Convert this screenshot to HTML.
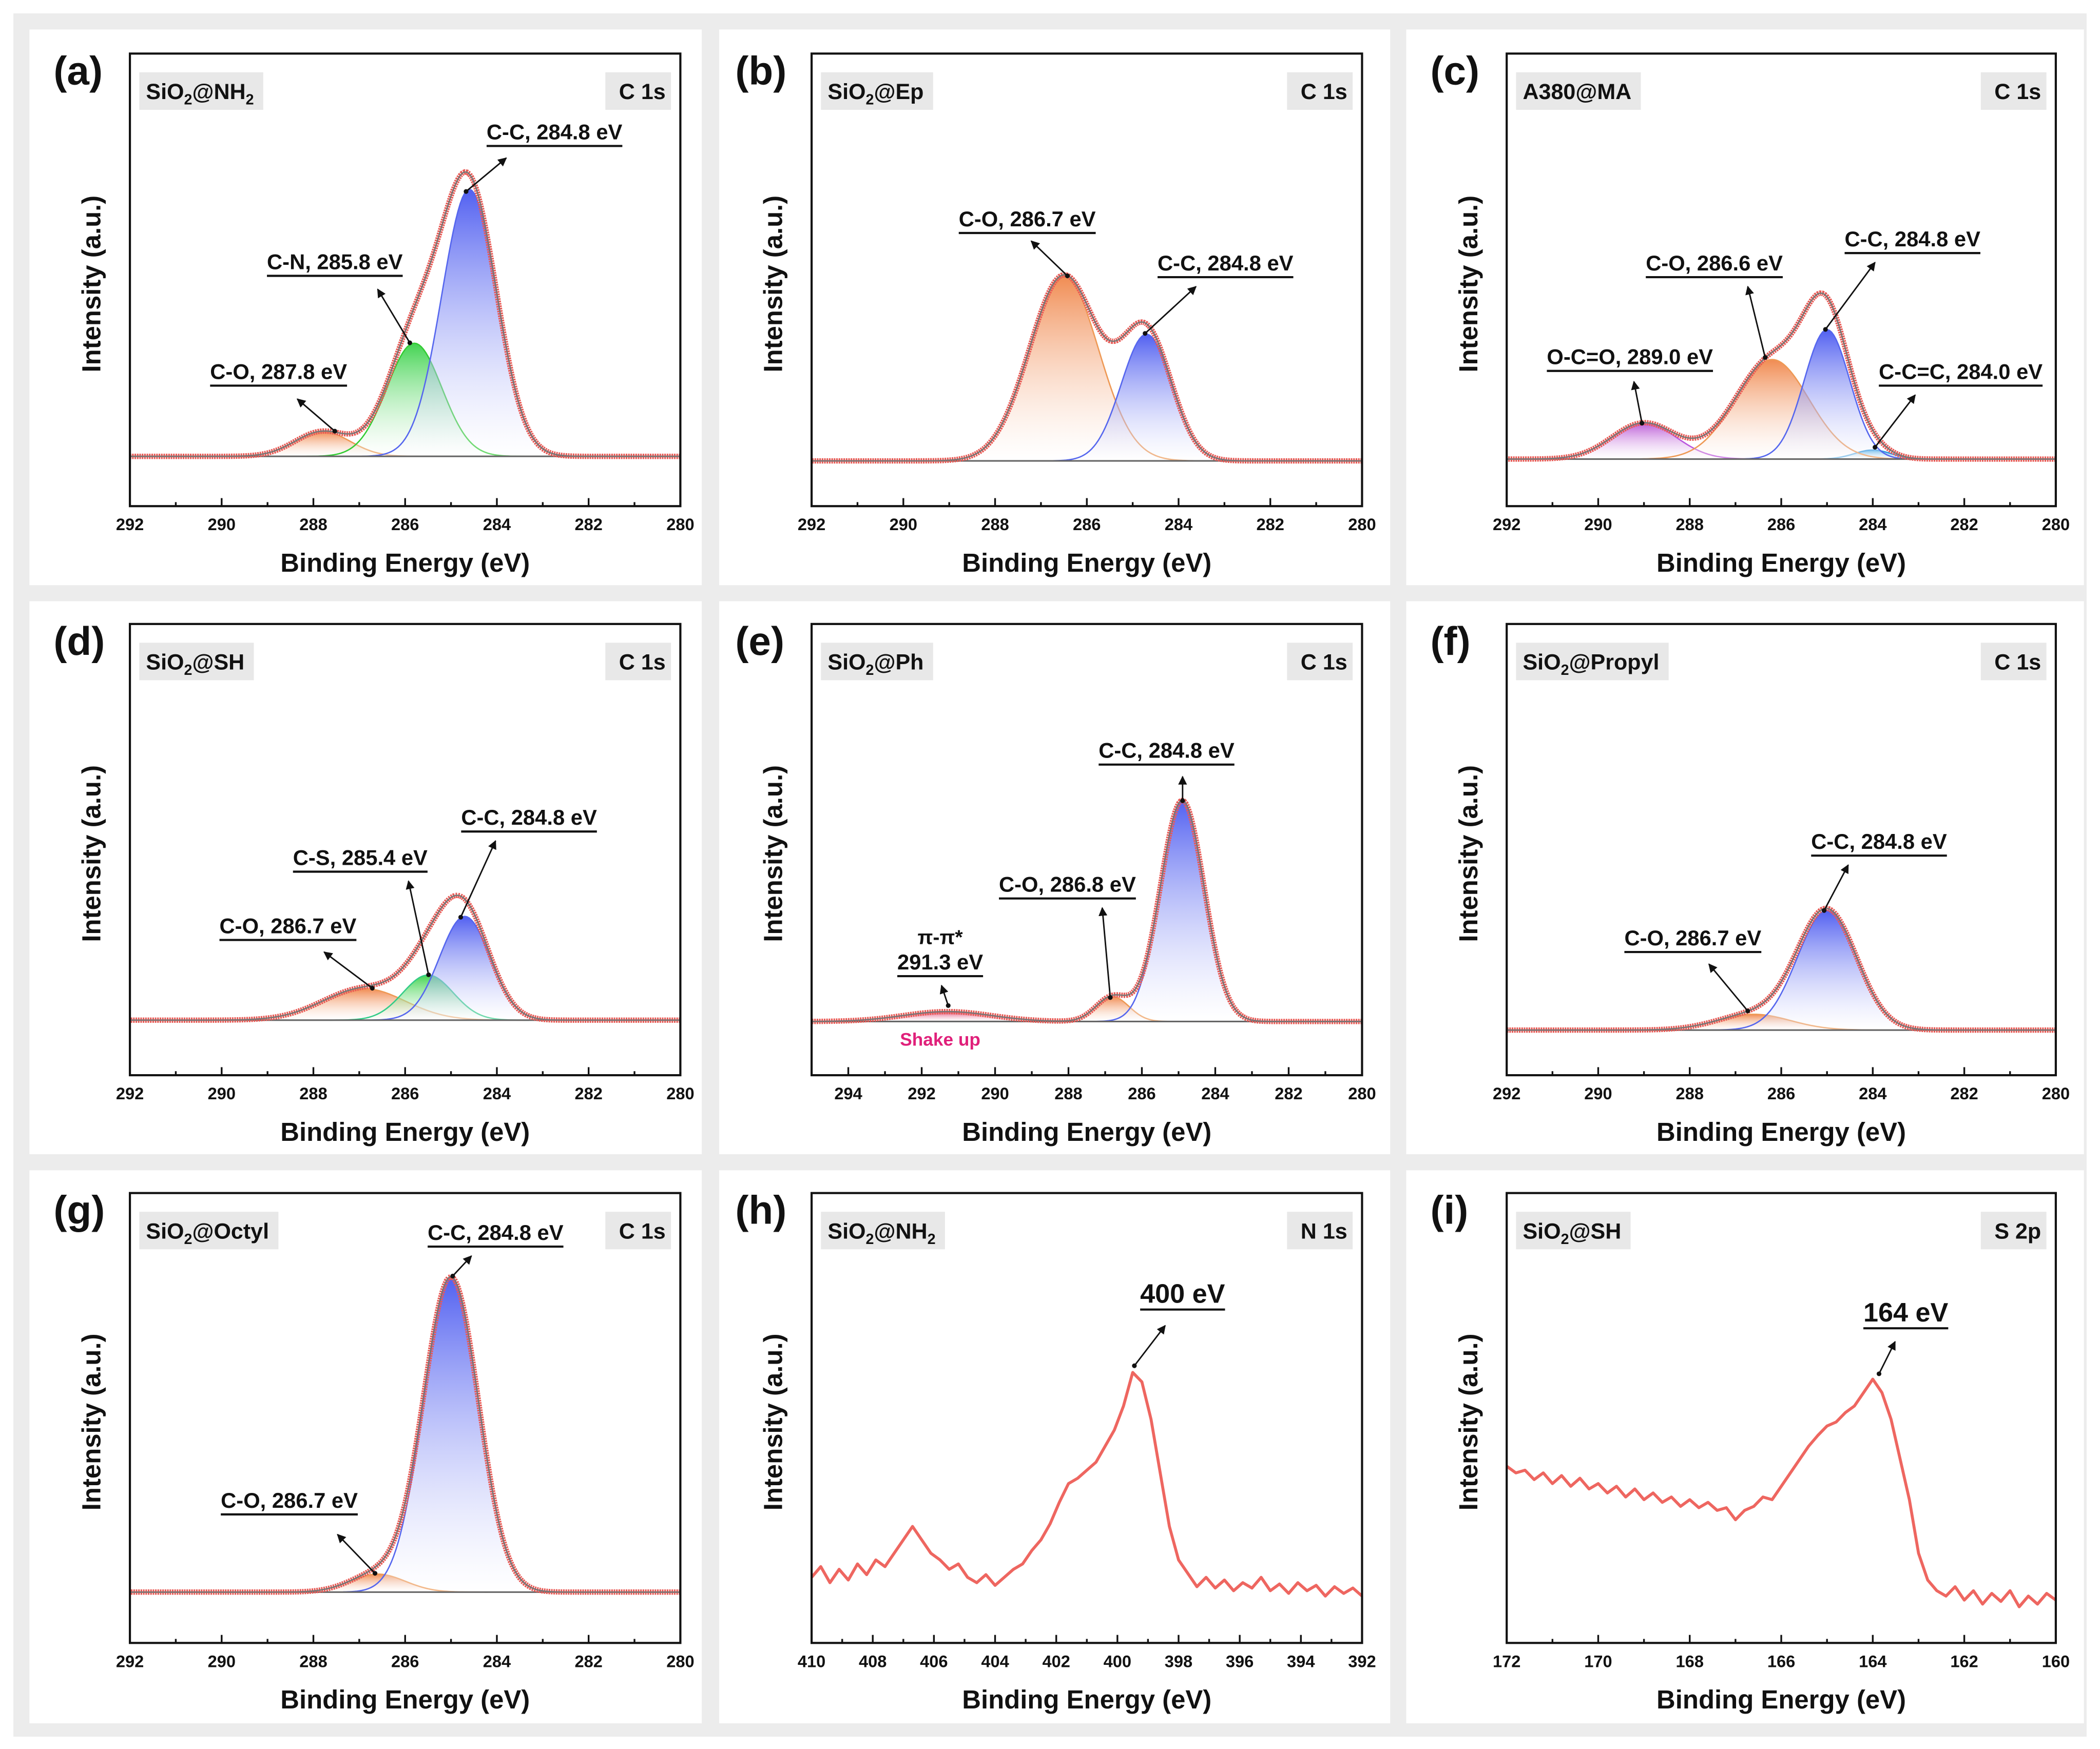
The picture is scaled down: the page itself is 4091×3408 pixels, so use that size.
<!DOCTYPE html>
<html><head><meta charset="utf-8"><style>
html,body{margin:0;padding:0;background:#fff}
svg{display:block}
text{font-family:"Liberation Sans",Arial,sans-serif;font-weight:bold;fill:#111}
</style></head><body>
<svg id="fig" width="4091" height="3408" viewBox="0 0 1568 1306.2" xmlns="http://www.w3.org/2000/svg">
<defs>
<linearGradient id="gBlue" x1="0" y1="0" x2="0" y2="1"><stop offset="0" stop-color="#3344ee" stop-opacity="0.85"/><stop offset="1" stop-color="#ffffff" stop-opacity="0.3"/></linearGradient>
<linearGradient id="gGreen" x1="0" y1="0" x2="0" y2="1"><stop offset="0" stop-color="#22cc33" stop-opacity="0.85"/><stop offset="1" stop-color="#ffffff" stop-opacity="0.3"/></linearGradient>
<linearGradient id="gOrange" x1="0" y1="0" x2="0" y2="1"><stop offset="0" stop-color="#ee7733" stop-opacity="0.85"/><stop offset="1" stop-color="#ffffff" stop-opacity="0.3"/></linearGradient>
<linearGradient id="gPurple" x1="0" y1="0" x2="0" y2="1"><stop offset="0" stop-color="#b040d0" stop-opacity="0.85"/><stop offset="1" stop-color="#ffffff" stop-opacity="0.3"/></linearGradient>
<linearGradient id="gSky" x1="0" y1="0" x2="0" y2="1"><stop offset="0" stop-color="#2299dd" stop-opacity="0.85"/><stop offset="1" stop-color="#ffffff" stop-opacity="0.3"/></linearGradient>
<linearGradient id="gPink" x1="0" y1="0" x2="0" y2="1"><stop offset="0" stop-color="#dd3366" stop-opacity="0.85"/><stop offset="1" stop-color="#ffffff" stop-opacity="0.3"/></linearGradient>
<marker id="arr" viewBox="0 0 10 10" refX="9" refY="5" markerWidth="6" markerHeight="6" orient="auto-start-reverse"><path d="M0,0 L10,5 L0,10 z" fill="#111"/></marker>
<marker id="dot" viewBox="0 0 10 10" refX="5" refY="5" markerWidth="4" markerHeight="4"><circle cx="5" cy="5" r="4" fill="#111"/></marker>
</defs>
<rect x="0" y="0" width="1568" height="1306.2" fill="#fff"/>
<rect x="10" y="10" width="1548" height="1287" fill="#ececec"/>
</svg>
<script>
// ---- data (peak centres eV, heights %, sigma eV, baseline %) ----
const aCenters=[284.6,285.8,287.8]; const aHeights=[59,25,5.5]; const aSigmas=[0.6,0.6,0.6]; const aBase=11;
const bCenters=[284.7,286.5]; const bHeights=[28,41]; const bSigmas=[0.55,0.75]; const bBase=10;
const cCenters=[285.0,286.2,289.0,284.0]; const cHeights=[28.6,22,8,2]; const cSigmas=[0.5,0.8,0.7,0.4]; const cBase=10.4;
const dCenters=[284.7,285.5,286.9]; const dHeights=[23,10,7]; const dSigmas=[0.55,0.55,0.9]; const dBase=12.2;
const eCenters=[284.9,286.8,291.3]; const eHeights=[49,5.5,2.2]; const eSigmas=[0.6,0.45,1.2]; const eBase=11.9;
const fCenters=[285.0,286.6]; const fHeights=[26.5,3.5]; const fSigmas=[0.65,0.8]; const fBase=10;
const gCenters=[285.0,286.6]; const gHeights=[70,4]; const gSigmas=[0.6,0.6]; const gBase=11.3;
const hEnergy=[410,409.7,409.4,409.1,408.8,408.5,408.2,407.9,407.6,407.3,407,406.7,406.4,406.1,405.8,405.5,405.2,404.9,404.6,404.3,404,403.7,403.4,403.1,402.8,402.5,402.2,401.9,401.6,401.3,401,400.7,400.4,400.1,399.8,399.5,399.2,398.9,398.6,398.3,398,397.7,397.4,397.1,396.8,396.5,396.2,395.9,395.6,395.3,395,394.7,394.4,394.1,393.8,393.5,393.2,392.9,392.6,392.3,392];
const hCounts=[49,57,45,55,47,59,51,62,57,67,77,87,77,67,62,55,59,49,45,51,43,49,55,59,69,77,89,105,119,123,129,135,147,159,177,202,195,167,127,87,62,52,42,49,41,47,39,45,41,49,39,44,37,45,39,43,35,42,37,41,35];
const iEnergy=[172,171.8,171.6,171.4,171.2,171,170.8,170.6,170.4,170.2,170,169.8,169.6,169.4,169.2,169,168.8,168.6,168.4,168.2,168,167.8,167.6,167.4,167.2,167,166.8,166.6,166.4,166.2,166,165.8,165.6,165.4,165.2,165,164.8,164.6,164.4,164.2,164,163.8,163.6,163.4,163.2,163,162.8,162.6,162.4,162.2,162,161.8,161.6,161.4,161.2,161,160.8,160.6,160.4,160.2,160];
const iCounts=[132,127,129,122,127,119,125,117,123,115,119,112,117,109,115,107,112,105,109,102,107,101,105,99,101,92,99,102,109,107,117,127,137,147,155,162,165,172,177,187,197,187,167,137,107,67,47,39,35,42,32,39,29,37,31,39,27,35,29,37,32];
const xTicksC=[292,290,288,286,284,282,280];
const xTicksE=[294,292,290,288,286,284,282,280];
const xTicksH=[410,408,406,404,402,400,398,396,394,392];
const xTicksI=[172,170,168,166,164,162,160];

const NS="http://www.w3.org/2000/svg";
const svg=document.getElementById('fig');
function mk(tag,attrs,parent){const e=document.createElementNS(NS,tag);for(const k in attrs)e.setAttribute(k,attrs[k]);(parent||svg).appendChild(e);return e;}

const colX=[[97,508],[606,1017],[1125,1535]];
const rowY=[[40,378],[466,803],[891,1227]];
const boxX=[[22,524],[537,1038],[1050,1556]];
const boxY=[[22,437],[449,862],[874,1287]];

const panels=[
 {id:'a',c:0,r:0,x0:292,x1:280,ticks:xTicksC,tag:['SiO','2','@NH','2'],core:'C 1s',fit:{cen:aCenters,h:aHeights,s:aSigmas,base:aBase,fills:['gBlue','gGreen','gOrange'],lines:['#5566ee','#33cc33','#ee9955']},
  labels:[['C-C, 284.8 eV',414,104,348,143,378,118],['C-N, 285.8 eV',250,201,306,256,282,216],['C-O, 287.8 eV',208,283,250,322,222,298]]},
 {id:'b',c:1,r:0,x0:292,x1:280,ticks:xTicksC,tag:['SiO','2','@Ep'],core:'C 1s',fit:{cen:bCenters,h:bHeights,s:bSigmas,base:bBase,fills:['gBlue','gOrange'],lines:['#5566ee','#ee9955']},
  labels:[['C-O, 286.7 eV',767,169,797,206,770,180],['C-C, 284.8 eV',915,202,855,249,893,214]]},
 {id:'c',c:2,r:0,x0:292,x1:280,ticks:xTicksC,tag:['A380@MA'],core:'C 1s',fit:{cen:cCenters,h:cHeights,s:cSigmas,base:cBase,fills:['gBlue','gOrange','gPurple','gSky'],lines:['#5566ee','#ee9955','#bb55dd','#3399dd']},
  labels:[['C-C, 284.8 eV',1428,184,1363,246,1400,196],['C-O, 286.6 eV',1280,202,1318,267,1305,214],['O-C=O, 289.0 eV',1217,272,1226,316,1220,285],['C-C=C, 284.0 eV',1464,283,1400,334,1430,295]]},
 {id:'d',c:0,r:1,x0:292,x1:280,ticks:xTicksC,tag:['SiO','2','@SH'],core:'C 1s',fit:{cen:dCenters,h:dHeights,s:dSigmas,base:dBase,fills:['gBlue','gGreen','gOrange'],lines:['#5566ee','#33cc88','#ee9955']},
  labels:[['C-C, 284.8 eV',395,616,344,685,370,628],['C-S, 285.4 eV',269,646,320,728,305,658],['C-O, 286.7 eV',215,697,278,738,242,711]]},
 {id:'e',c:1,r:1,x0:295,x1:280,ticks:xTicksE,tag:['SiO','2','@Ph'],core:'C 1s',fit:{cen:eCenters,h:eHeights,s:eSigmas,base:eBase,fills:['gBlue','gOrange','gPink'],lines:['#5566ee','#ee9955','#dd4477']},
  labels:[['C-C, 284.8 eV',871,566,883,598,883,580],['C-O, 286.8 eV',797,666,829,745,823,678],['291.3 eV',702,724,708,751,703,736]]},
 {id:'f',c:2,r:1,x0:292,x1:280,ticks:xTicksC,tag:['SiO','2','@Propyl'],core:'C 1s',fit:{cen:fCenters,h:fHeights,s:fSigmas,base:fBase,fills:['gBlue','gOrange'],lines:['#5566ee','#ee9955']},
  labels:[['C-C, 284.8 eV',1403,634,1362,680,1380,646],['C-O, 286.7 eV',1264,706,1305,755,1276,720]]},
 {id:'g',c:0,r:2,x0:292,x1:280,ticks:xTicksC,tag:['SiO','2','@Octyl'],core:'C 1s',fit:{cen:gCenters,h:gHeights,s:gSigmas,base:gBase,fills:['gBlue','gOrange'],lines:['#5566ee','#ee9955']},
  labels:[['C-C, 284.8 eV',370,926,338,953,352,938],['C-O, 286.7 eV',216,1126,280,1175,252,1146]]},
 {id:'h',c:1,r:2,x0:410,x1:392,ticks:xTicksH,tag:['SiO','2','@NH','2'],core:'N 1s',raw:{e:hEnergy,v:hCounts,max:336},
  labels:[['400 eV',883,973,847,1020,870,990,20]]},
 {id:'i',c:2,r:2,x0:172,x1:160,ticks:xTicksI,tag:['SiO','2','@SH'],core:'S 2p',raw:{e:iEnergy,v:iCounts,max:336},
  labels:[['164 eV',1423,987,1403,1026,1415,1002,20]]}
];

panels.forEach(p=>{
 const [fx0,fx1]=colX[p.c],[fy0,fy1]=rowY[p.r];
 const g=mk('g',{});
 
 
 const bg=mk('rect',{x:boxX[p.c][0],y:boxY[p.r][0],width:boxX[p.c][1]-boxX[p.c][0],height:boxY[p.r][1]-boxY[p.r][0],fill:'#fff'},g);
 
 
 const X=e=>fx0+(e-p.x0)/(p.x1-p.x0)*(fx1-fx0);
 const Ymax=p.raw?p.raw.max:100;
 const Y=v=>fy1-v/Ymax*(fy1-fy0);
 const plot=mk('g',{},g);
 
 
 if(p.fit){
  const f=p.fit;const step=0.05;const es=[];
  const lo=Math.min(p.x0,p.x1),hi=Math.max(p.x0,p.x1);
  for(let e=lo;e<=hi+1e-9;e+=step)es.push(e);
  const comp=(i,e)=>f.h[i]*Math.exp(-0.5*Math.pow((e-f.cen[i])/f.s[i],2));
  for(let i=f.cen.length-1;i>=0;i--){
   let d='M'+X(f.cen[i]-4*f.s[i])+','+Y(f.base);
   let dl='';
   es.filter(e=>Math.abs(e-f.cen[i])<4*f.s[i]).forEach((e,k)=>{const pt=X(e)+','+Y(f.base+comp(i,e));d+=' L'+pt;dl+=(k?' L':'M')+pt;});
   d+=' L'+X(f.cen[i]+4*f.s[i])+','+Y(f.base)+' Z';
   const a=mk('path',{d:d,fill:'url(#'+f.fills[i]+')',stroke:'none'},plot);
   
   
   const l=mk('path',{d:dl,fill:'none',stroke:f.lines[i],'stroke-width':1},plot);
   
   
  }
  const bl=mk('line',{x1:fx0,x2:fx1,y1:Y(f.base),y2:Y(f.base),stroke:'#666','stroke-width':1.2},plot);
  
  
  let d='';
  es.forEach((e,k)=>{let s=f.base;for(let i=0;i<f.cen.length;i++)s+=comp(i,e);d+=(k?' L':'M')+X(e)+','+Y(s);});
  const env=mk('path',{d:d,fill:'none',stroke:'#e85a55','stroke-width':4,'stroke-dasharray':'1.2 0.6'},plot);
  
  
  const fl=mk('path',{d:d,fill:'none',stroke:'#777','stroke-width':1},plot);
  
  
 } else {
  let d='';
  p.raw.e.forEach((e,k)=>{d+=(k?' L':'M')+X(e)+','+Y(p.raw.v[k]);});
  const sp=mk('path',{d:d,fill:'none',stroke:'#ee6660','stroke-width':2.2,'stroke-linejoin':'round'},plot);
  
  
 }
 const fr=mk('rect',{x:fx0,y:fy0,width:fx1-fx0,height:fy1-fy0,fill:'none',stroke:'#111','stroke-width':1.6},g);
 
 
 const lo=Math.min(p.x0,p.x1),hi=Math.max(p.x0,p.x1);
 for(let e=Math.ceil(lo);e<=hi;e++){
  const major=p.ticks.indexOf(e)>=0;
  const t=mk('line',{x1:X(e),x2:X(e),y1:fy1,y2:fy1-(major?6:3),stroke:'#111','stroke-width':1.3},g);
  
  
 }
 p.ticks.forEach(v=>{
  const t=mk('text',{x:X(v),y:fy1+18,'text-anchor':'middle','font-size':12.5},g);
  t.textContent=v;
  
  
 });
 const xl=mk('text',{x:(fx0+fx1)/2,y:fy1+49,'text-anchor':'middle','font-size':19.5},g);
 xl.textContent='Binding Energy (eV)';
 
 
 const yx=fx0-22,yy=(fy0+fy1)/2+3;
 const yl=mk('text',{x:yx,y:yy,'text-anchor':'middle','font-size':19.5,transform:'rotate(-90 '+yx+' '+yy+')'},g);
 yl.textContent='Intensity (a.u.)';
 
 
 const pl=mk('text',{x:fx0-57,y:fy0+23,'font-size':30},g);
 pl.textContent='('+p.id+')';
 
 
 const tb=mk('rect',{x:fx0+7,y:fy0+14,width:10,height:28,fill:'#e8e8e8'},g);
 
 
 const tt=mk('text',{x:fx0+12,y:fy0+34,'font-size':16.5},g);
 
 
 p.tag.forEach((s,k)=>{const ts=mk('tspan',{},tt);ts.textContent=s;if(s==='2'){ts.setAttribute('font-size','11');ts.setAttribute('dy','4');}else if(k>0&&p.tag[k-1]==='2'){ts.setAttribute('dy','-4');}});
 tb.setAttribute('width',tt.getComputedTextLength()+12);
 const cb=mk('rect',{x:fx1-56,y:fy0+14,width:49,height:28,fill:'#e8e8e8'},g);
 
 
 const ct=mk('text',{x:fx1-11,y:fy0+34,'font-size':16.5,'text-anchor':'end'},g);
 ct.textContent=p.core;
 
 
 p.labels.forEach(L=>{
  const fs=L[7]||16;
  const t=mk('text',{x:L[1],y:L[2],'text-anchor':'middle','font-size':fs},g);
  t.textContent=L[0];
  
  
  const w=t.getComputedTextLength();
  const u=mk('line',{x1:L[1]-w/2,x2:L[1]+w/2,y1:L[2]+5,y2:L[2]+5,stroke:'#111','stroke-width':1.6},g);
  
  
  const ar=mk('line',{x1:L[3],y1:L[4],x2:L[5],y2:L[6],stroke:'#111','stroke-width':1.1,'marker-end':'url(#arr)','marker-start':'url(#dot)'},g);
  
  
 });
 if(p.id==='e'){
  const t1=mk('text',{x:702,y:705,'text-anchor':'middle','font-size':15},g);
  t1.textContent='π-π*';
  
  
  const t2=mk('text',{x:702,y:781,'text-anchor':'middle','font-size':13.5,style:'fill:#e0207a'},g);
  t2.textContent='Shake up';
  
  
 }
});
</script>
</body></html>
